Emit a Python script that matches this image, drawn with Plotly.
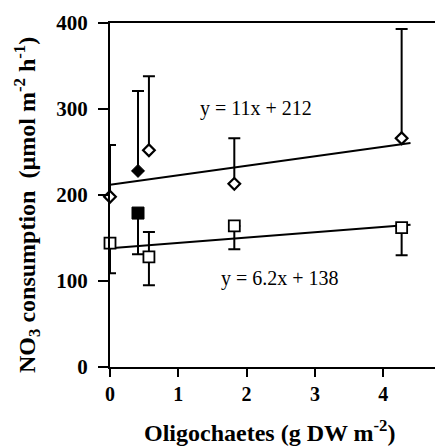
import plotly.graph_objects as go

# ---- data ----
x_open = [0.0, 0.57, 1.82, 4.27]
diamond_y = [198, 252, 213, 266]
diamond_err_up = [60, 86, 53, 127]

square_y = [144, 128, 164, 162]
square_err_up = [0, 29, 0, 0]
square_err_down = [35, 33, 27, 32]

x_filled = [0.41]
filled_diamond_y = [228]
filled_diamond_err_up = [93]
filled_square_y = [179]
filled_square_err_down = [48]

fit_slopes = [11, 6.2]
fit_intercepts = [212, 138]
fit_x = [0, 4.4]
fit_labels = ["y = 11x + 212", "y = 6.2x + 138"]
fit_label_x = [2.14, 2.49]
fit_label_y = [301, 103]

x_ticks = [0, 1, 2, 3, 4]
y_ticks = [0, 100, 200, 300, 400]

SERIF = "Liberation Serif, Times New Roman, serif"
LW = 2

# page body has an 8px margin; compensate so the plot lands where the reference has it
OFF = 8
WIN_W, WIN_H = 443, 447
PL, PT, PR, PB = 110, 23, 443, 367          # plot area in window pixels
W, H = WIN_W - OFF, WIN_H - OFF
ML, MT = PL - OFF, PT - OFF
MR, MB = OFF + W - PR, OFF + H - PB
PW, PH = PR - PL, PB - PT

fig = go.Figure()

# fit lines
for m, b in zip(fit_slopes, fit_intercepts):
    fig.add_trace(go.Scatter(
        x=fit_x, y=[m * xx + b for xx in fit_x], mode="lines",
        line=dict(color="black", width=LW), showlegend=False, hoverinfo="skip"))

def errs(up, down):
    return dict(type="data", symmetric=False, array=up, arrayminus=down,
                color="black", thickness=LW, width=6)

# open diamonds
fig.add_trace(go.Scatter(
    x=x_open, y=diamond_y, mode="markers", cliponaxis=False,
    marker=dict(symbol="diamond", size=9, color="white",
                line=dict(color="black", width=2.2)),
    error_y=errs(diamond_err_up, [0] * len(diamond_y)), showlegend=False))

# open squares
fig.add_trace(go.Scatter(
    x=x_open, y=square_y, mode="markers", cliponaxis=False,
    marker=dict(symbol="square", size=11, color="white",
                line=dict(color="black", width=1.8)),
    error_y=errs(square_err_up, square_err_down), showlegend=False))

# filled diamond
fig.add_trace(go.Scatter(
    x=x_filled, y=filled_diamond_y, mode="markers", cliponaxis=False,
    marker=dict(symbol="diamond", size=10, color="black",
                line=dict(color="black", width=1)),
    error_y=errs(filled_diamond_err_up, [0]), showlegend=False))

# filled square
fig.add_trace(go.Scatter(
    x=x_filled, y=filled_square_y, mode="markers", cliponaxis=False,
    marker=dict(symbol="square", size=12, color="black",
                line=dict(color="black", width=1)),
    error_y=errs([0], filled_square_err_down), showlegend=False))

for txt, lx, ly in zip(fit_labels, fit_label_x, fit_label_y):
    fig.add_annotation(x=lx, y=ly, text=txt, showarrow=False, xanchor="center",
                       yanchor="middle", font=dict(family=SERIF, size=20, color="black"))

# axis titles as annotations (window pixel positions -> paper coords)
fig.add_annotation(xref="paper", yref="paper", x=(270 - PL) / PW, y=(PB - 431) / PH,
                   text="<b>Oligochaetes (g DW m<sup>-2</sup>)</b>", showarrow=False,
                   xanchor="center", yanchor="middle",
                   font=dict(family=SERIF, size=24, color="black"))
fig.add_annotation(xref="paper", yref="paper", x=(27 - PL) / PW, y=(PB - 205) / PH,
                   text="<b>NO<sub>3</sub> consumption  (µmol m<sup>-2</sup> h<sup>-1</sup>)</b>",
                   showarrow=False, textangle=-90, xanchor="center", yanchor="middle",
                   font=dict(family=SERIF, size=24, color="black"))

fig.update_layout(
    width=W, height=H,
    margin=dict(l=ML, r=MR, t=MT, b=MB, pad=0),
    plot_bgcolor="white", paper_bgcolor="white",
    font=dict(family=SERIF, color="black"),
    xaxis=dict(range=[0, PW / 68.3], tickvals=x_ticks, ticks="outside", ticklen=8,
               tickwidth=2, tickcolor="black", showline=True, linecolor="black",
               linewidth=2, mirror=True, showgrid=False, zeroline=False,
               automargin=False,
               tickfont=dict(family=SERIF, size=20, color="black", weight="bold"),
               ticklabelstandoff=0),
    yaxis=dict(range=[0, 400], tickvals=y_ticks, ticks="outside", ticklen=10,
               tickwidth=2, tickcolor="black", showline=True, linecolor="black",
               linewidth=2, showgrid=False, zeroline=False, automargin=False,
               tickfont=dict(family=SERIF, size=21, color="black", weight="bold"),
               ticklabelstandoff=6),
)

fig.write_html("out.html")
